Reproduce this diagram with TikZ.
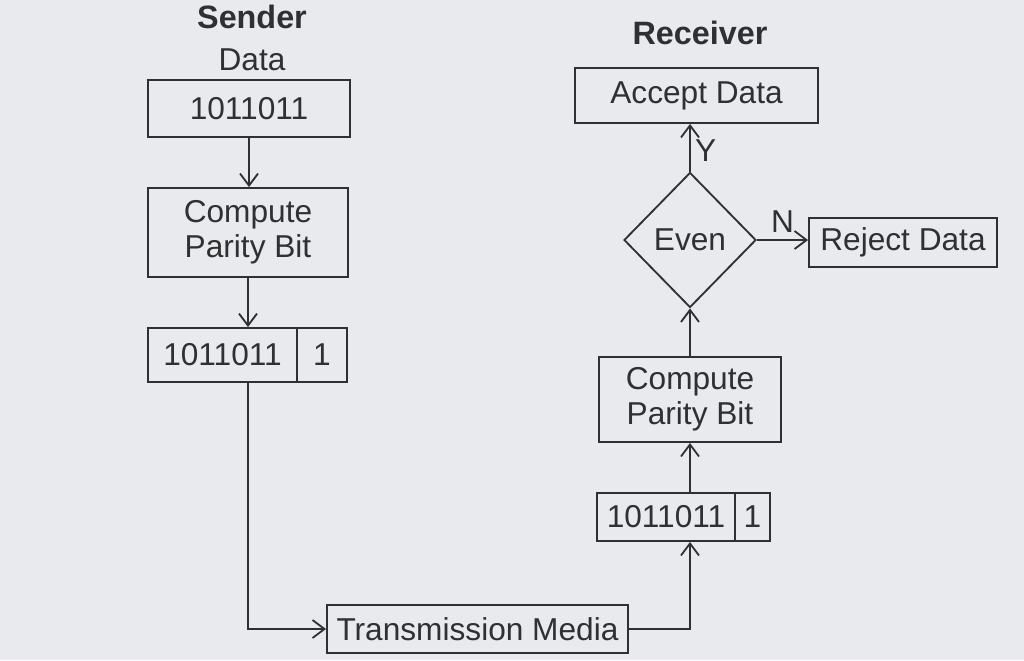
\documentclass[tikz,border=0pt]{standalone}
\usepackage{fontspec}
\setmainfont{Liberation Sans}
\usepackage{tikz}
\usetikzlibrary{calc}
\usetikzlibrary{arrows.meta}
\usetikzlibrary{shapes.geometric}
\definecolor{paper}{RGB}{233,234,238}
\definecolor{ink}{RGB}{48,48,50}

\begin{document}
\begin{tikzpicture}[
x=0.025cm, y=-0.025cm,
MyText/.style={text=ink, font=\fontsize{22.5}{25}\selectfont},
MyBoxes/.style={MyText, draw=ink, line width=1.3pt, inner sep=0pt, align=center},
MyDecision/.style={MyBoxes, diamond, minimum width=3.3cm, minimum height=3.375cm},
MyLinks/.style={draw=ink, line width=1.3pt, -{Straight Barb[length=3mm, width=4.5mm]}},
MyTitles/.style={text=ink, font=\fontsize{23}{25}\selectfont\bfseries}
]
\fill[paper] (0,0) rectangle (1024,660);
\useasboundingbox (0,0) rectangle (1024,660);

% Sender side
\node[MyTitles] (sender) at (252,17) {Sender};
\node[MyText] (data) at (252,60) {Data};
\node[MyBoxes, minimum width=5.05cm, minimum height=1.425cm] (txdata) at (249,108.5) {1011011};
\node[MyBoxes, minimum width=5cm, minimum height=2.225cm] (txparity) at (248,232.5) {Compute\\Parity Bit};
\node[MyBoxes, minimum width=3.725cm, minimum height=1.35cm] (txword) at (222.5,355) {1011011};
\node[MyBoxes, minimum width=1.25cm, minimum height=1.35cm] (txbit) at (322,355) {1};

\node[MyBoxes, minimum width=7.525cm, minimum height=1.2cm] (media) at (477.5,629) {Transmission Media};

% Receiver side
\node[MyTitles] (receiver) at (700,33) {Receiver};
\node[MyBoxes, minimum width=3.45cm, minimum height=1.2cm] (rxword) at (666,517) {1011011};
\node[MyBoxes, minimum width=0.875cm, minimum height=1.2cm] (rxbit) at (752.5,517) {1};
\node[MyBoxes, minimum width=4.55cm, minimum height=2.125cm] (rxparity) at (690,399.5) {Compute\\Parity Bit};
\node[MyDecision] (even) at (690,240) {Even};
\node[MyBoxes, minimum width=6.075cm, minimum height=1.375cm] (accept) at (696.5,95.5) {Accept Data};
\node[MyBoxes, minimum width=4.7cm, minimum height=1.225cm] (reject) at (903,242.5) {Reject Data};

\coordinate (txjoin) at (txparity.south |- txword.south);

\draw[MyLinks] (txdata.south) -- (txdata.south |- txparity.north);
\draw[MyLinks] (txparity.south) -- (txparity.south |- txword.north);
\draw[MyLinks] (txjoin) |- (media.west);
\draw[MyLinks] (media.east) -| (rxparity.south |- rxword.south);
\draw[MyLinks] (rxparity.south |- rxword.north) -- (rxparity.south);
\draw[MyLinks] (rxparity.north) -- (even.south);
\draw[MyLinks] (even.north) -- (even.north |- accept.south) node[MyText, right, pos=0.45, inner sep=3pt] (ylabel) {Y};
\draw[MyLinks] (even.east) -- (even.east -| reject.west) node[MyText, midway, above, inner sep=5pt] (nlabel) {N};

\end{tikzpicture}
\end{document}
